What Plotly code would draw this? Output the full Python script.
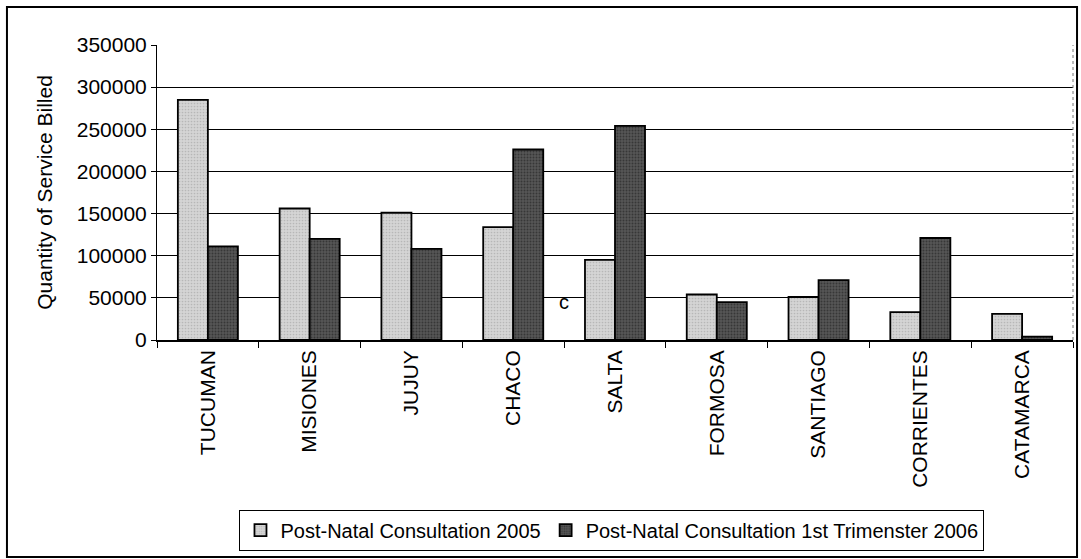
import plotly.graph_objects as go

provinces = ["TUCUMAN", "MISIONES", "JUJUY", "CHACO", "SALTA",
             "FORMOSA", "SANTIAGO", "CORRIENTES", "CATAMARCA"]
consult_2005 = [285000, 156000, 151000, 134000, 95000, 54000, 51000, 33000, 31000]
consult_2006_q1 = [111000, 120000, 108000, 226000, 254000, 45000, 71000, 121000, 4000]
y_ticks = [0, 50000, 100000, 150000, 200000, 250000, 300000, 350000]

FONT = "Liberation Sans, Arial, sans-serif"

fig = go.Figure()
fig.add_trace(go.Bar(
    x=provinces, y=consult_2005, name="Post-Natal Consultation 2005",
    marker=dict(color="#cfcfcf", line=dict(color="#000000", width=1.8),
                pattern=dict(shape=".", fgcolor="#9a9a9a", bgcolor="#d4d4d4",
                             size=3, solidity=0.25)),
))
fig.add_trace(go.Bar(
    x=provinces, y=consult_2006_q1, name="Post-Natal Consultation 1st Trimenster 2006",
    marker=dict(color="#404040", line=dict(color="#000000", width=1.8),
                pattern=dict(shape=".", fgcolor="#1a1a1a", bgcolor="#555555",
                             size=3, solidity=0.35)),
))

fig.add_annotation(x=3.5, y=45000, xref="x", yref="y", text="c", showarrow=False,
                   font=dict(family=FONT, size=20, color="#000000"))

# outer chart frame around plot, labels and legend
fig.add_shape(type="rect", xref="paper", yref="paper",
              x0=-0.1638, x1=1.0044, y0=-0.7356, y1=1.1288,
              line=dict(color="#000000", width=2), layer="below")
# right edge of the plot area
fig.add_shape(type="line", xref="paper", yref="paper", x0=1, x1=1, y0=0, y1=1,
              line=dict(color="#777777", width=1, dash="dot"))

fig.update_layout(
    width=1081, height=559,
    margin=dict(l=157, r=8, t=45, b=219),
    paper_bgcolor="#ffffff", plot_bgcolor="#ffffff",
    barmode="group", bargap=0.41, bargroupgap=0,
    font=dict(family=FONT, size=21, color="#000000"),
    showlegend=True,
    legend=dict(orientation="h", x=0.4967, y=-0.575, xanchor="center", yanchor="top",
                bordercolor="#000000", borderwidth=1, bgcolor="#ffffff",
                font=dict(family=FONT, size=20), itemwidth=30,
                traceorder="normal"),
)
fig.update_yaxes(
    range=[0, 350000], tickvals=y_ticks, ticktext=[str(v) for v in y_ticks],
    showgrid=True, gridcolor="#000000", gridwidth=1,
    showline=True, linecolor="#000000", linewidth=1,
    ticks="outside", ticklen=5, tickcolor="#000000",
    zeroline=False,
    tickfont=dict(family=FONT, size=21),
    title=dict(text="Quantity of Service Billed", standoff=18,
               font=dict(family=FONT, size=21)),
)
fig.update_xaxes(
    tickangle=-90, tickson="boundaries", ticks="outside", ticklen=6,
    tickcolor="#000000", showline=True, linecolor="#000000", linewidth=1.5,
    tickfont=dict(family=FONT, size=21),
)

fig.write_html("out.html")
